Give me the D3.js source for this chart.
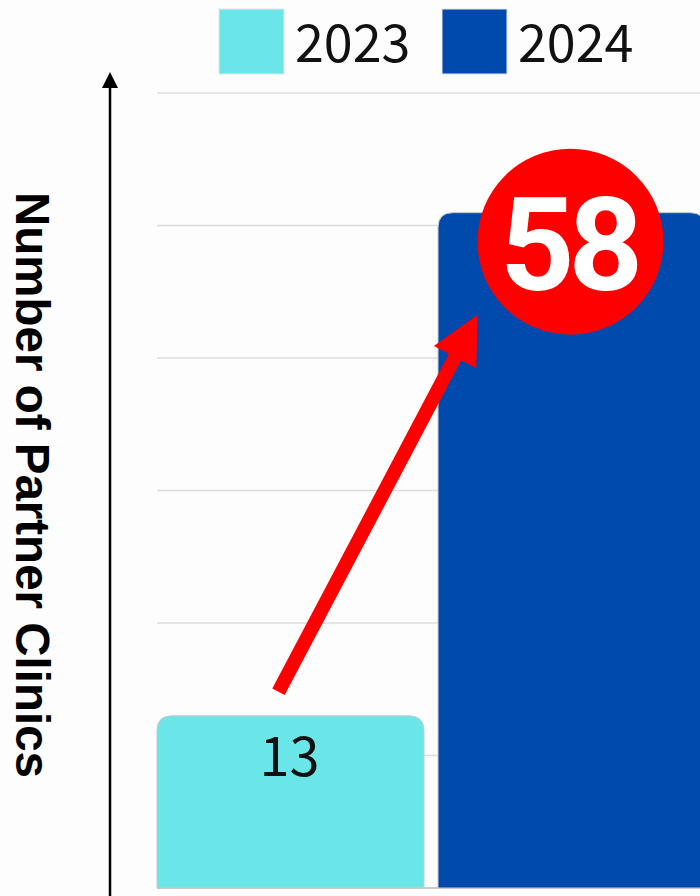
<!DOCTYPE html>
<html>
<head>
<meta charset="utf-8">
<script src="https://cdn.jsdelivr.net/npm/d3@7"></script>
<style>
  html, body { margin: 0; padding: 0; background: #ffffff; }
  svg { display: block; }
</style>
</head>
<body>
<div id="chart"></div>
<script>
// ---- data ----
const categories = ["2023", "2024"];
const values = [13, 58];
const colors = ["#6be6e8", "#004aad"];
const axisTitle = "Number of Partner Clinics";
const highlightLabel = "58";
const yDomain = [-2.4, 68.7];
const gridCount = 6;

// ---- layout ----
const W = 700, H = 896;
const plot = { left: 157, right: 700, top: 93, bottom: 888 };

const svg = d3.select("#chart").append("svg")
  .attr("width", W).attr("height", H)
  .style("font-family", "'Noto Sans CJK JP', 'Noto Sans', sans-serif");

svg.append("rect").attr("width", W).attr("height", H).attr("fill", "#fdfdfd");

const x = d3.scaleBand().domain(categories).range([157, 705])
  .paddingInner(0.05).paddingOuter(0);
const y = d3.scaleLinear().domain(yDomain).range([plot.bottom, plot.top]);
const color = d3.scaleOrdinal().domain(categories).range(colors);

// gridlines
const gridVals = d3.range(gridCount + 1).map(i => yDomain[0] + i * (yDomain[1] - yDomain[0]) / gridCount);
svg.append("g").selectAll("line").data(gridVals).join("line")
  .attr("x1", plot.left).attr("x2", plot.right)
  .attr("y1", d => y(d)).attr("y2", d => y(d))
  .attr("stroke", d => d === yDomain[0] ? "#b8b8b8" : "#dcdcdc")
  .attr("stroke-width", 1.5);

// bars with rounded top corners
const r = 15;
function barPath(x0, x1, yt, yb) {
  return `M${x0},${yb} L${x0},${yt + r} Q${x0},${yt} ${x0 + r},${yt} L${x1 - r},${yt} Q${x1},${yt} ${x1},${yt + r} L${x1},${yb} Z`;
}
const data = categories.map((c, i) => ({ cat: c, value: values[i] }));
svg.append("g").selectAll("path").data(data).join("path")
  .attr("d", d => barPath(x(d.cat), x(d.cat) + x.bandwidth(), y(d.value), y(yDomain[0])))
  .attr("fill", d => color(d.cat))
  .attr("stroke", "#c8c8c8").attr("stroke-width", 1);

// value label for the first bar
svg.append("text")
  .attr("x", x(categories[0]) + x.bandwidth() / 2 - 1)
  .attr("y", y(values[0]) + 60)
  .attr("text-anchor", "middle")
  .attr("font-size", 54)
  .attr("fill", "#111")
  .text(values[0]);

// y axis line with arrowhead
const axisX = 110;
svg.append("line")
  .attr("x1", axisX).attr("x2", axisX)
  .attr("y1", H).attr("y2", 86)
  .attr("stroke", "#000").attr("stroke-width", 2.5);
svg.append("path")
  .attr("d", `M${axisX},72 L${axisX - 8},88 L${axisX + 8},88 Z`)
  .attr("fill", "#000");

// axis title
svg.append("text")
  .attr("transform", `translate(16,485) rotate(90)`)
  .attr("text-anchor", "middle")
  .attr("font-family", "'Liberation Sans', Arial, sans-serif")
  .attr("font-weight", "bold")
  .attr("font-size", 47.5)
  .attr("fill", "#000")
  .text(axisTitle);

// arrow from bar 1 to highlight
const cx = x(categories[1]) + x.bandwidth() / 2 - 1;
const cy = y(values[1]) + 29;
const tail = [x(categories[0]) + x.bandwidth() / 2 - 12, y(values[0]) - 24];
const tip = [cx - 93, cy + 73];
const dx = tip[0] - tail[0], dy = tip[1] - tail[1];
const len = Math.hypot(dx, dy);
const ux = dx / len, uy = dy / len, nx = -uy, ny = ux;
const headLen = 48, headHalf = 24;
const base = [tip[0] - ux * headLen, tip[1] - uy * headLen];
svg.append("line")
  .attr("x1", tail[0]).attr("y1", tail[1])
  .attr("x2", base[0] + ux * 4).attr("y2", base[1] + uy * 4)
  .attr("stroke", "#ff0000").attr("stroke-width", 14);
svg.append("path")
  .attr("d", `M${tip[0]},${tip[1]} L${base[0] + nx * headHalf},${base[1] + ny * headHalf} L${base[0] - nx * headHalf},${base[1] - ny * headHalf} Z`)
  .attr("fill", "#ff0000");

// highlight circle
svg.append("circle").attr("cx", cx).attr("cy", cy).attr("r", 93).attr("fill", "#ff0000");
svg.append("text")
  .attr("x", cx - 2).attr("y", cy + 48)
  .attr("text-anchor", "middle")
  .attr("font-family", "Roboto, 'Liberation Sans', sans-serif")
  .attr("font-weight", "bold")
  .attr("font-size", 130)
  .attr("letter-spacing", -6)
  .attr("fill", "#fff")
  .text(highlightLabel);

// legend
const legend = svg.append("g");
const legendX = [219, 442];
categories.forEach((c, i) => {
  legend.append("rect")
    .attr("x", legendX[i]).attr("y", 9).attr("width", 65).attr("height", 65)
    .attr("fill", color(c)).attr("stroke", "#e6e6e6").attr("stroke-width", 1);
  legend.append("text")
    .attr("x", legendX[i] + 76).attr("y", 62)
    .attr("font-size", 52)
    .attr("fill", "#111")
    .text(c);
});
</script>
</body>
</html>
